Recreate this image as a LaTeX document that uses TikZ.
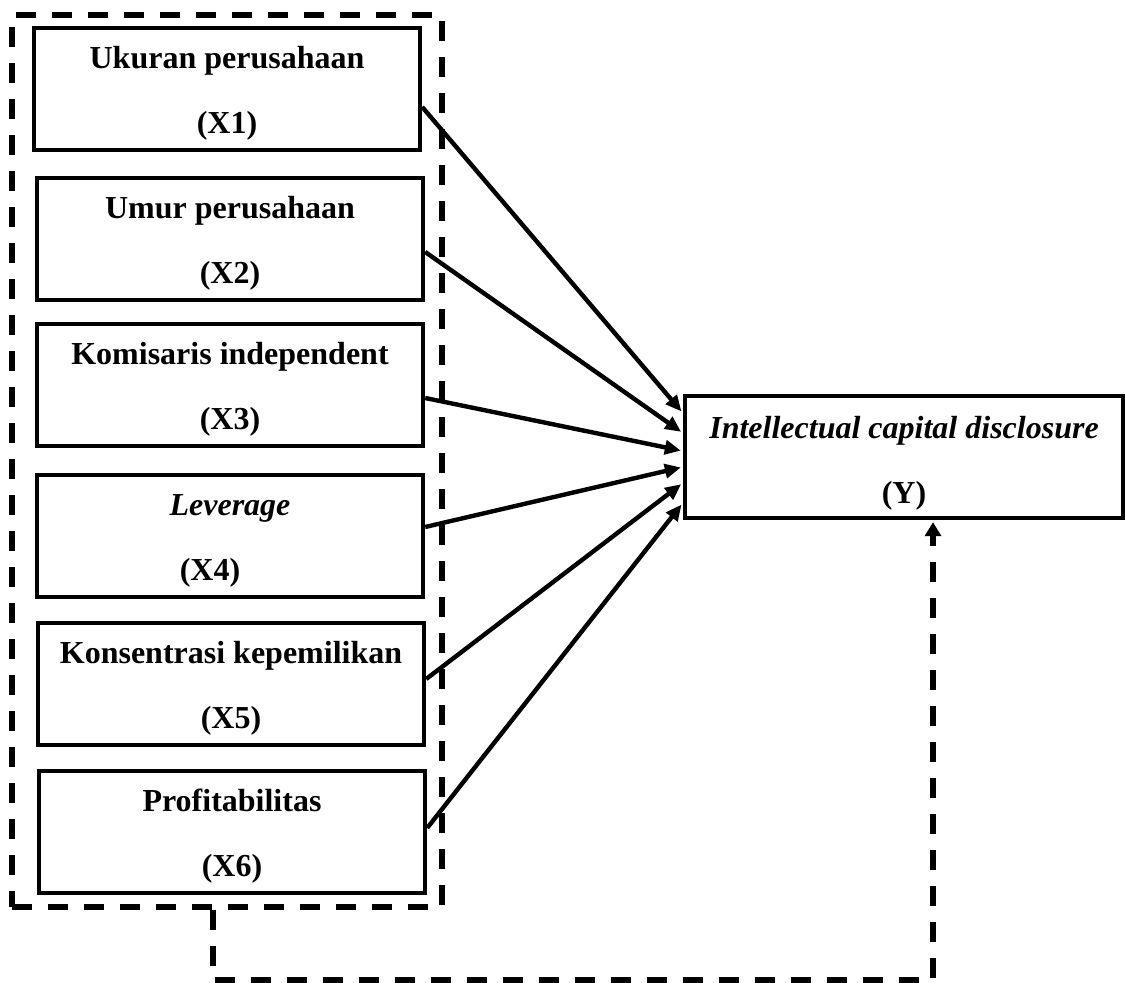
\documentclass[tikz,border=0pt]{standalone}
\usepackage{fontspec}
\setmainfont{Liberation Serif}
\usetikzlibrary{arrows.meta}

\begin{document}
\begin{tikzpicture}[x=0.5pt,y=-0.5pt,
  varbox/.style={draw,line width=2.2pt,minimum width=193pt,minimum height=61pt,
    align=center,text height=48pt,font=\fontsize{16}{32.5}\selectfont\bfseries},
  group/.style={draw,line width=3.2pt,dash pattern=on 10pt off 8pt,
    minimum width=215pt,minimum height=446pt},
  effect/.style={line width=2.2pt,-{Triangle[length=8pt,width=7pt]},shorten >=1pt},
  feedback/.style={line width=3.2pt,dash pattern=on 10pt off 8pt,
    -{Triangle[length=7pt,width=8pt]},shorten >=1pt}]
\useasboundingbox (0,0) rectangle (1125,983);
\node[group] (grp) at (227,461) {};
\node[varbox] (x1) at (227,89) {Ukuran perusahaan\\(X1)};
\node[varbox] (x2) at (230,239) {Umur perusahaan\\(X2)};
\node[varbox] (x3) at (230,385) {Komisaris independent\\(X3)};
\node[varbox] (x4) at (230,536) {\textit{Leverage}\\(X4)\hspace*{20pt}};
\node[varbox] (x5) at (231,684) {Konsentrasi kepemilikan\\(X5)};
\node[varbox] (x6) at (232,832) {Profitabilitas\\(X6)};
\node[varbox,minimum width=219pt,text height=50pt] (y) at (904,457) {\textit{Intellectual capital disclosure}\\(Y)};
% pengaruh X ke Y
\foreach \src/\from/\to in {x1/-9pt/22pt, x2/-6.5pt/12pt, x3/-6.5pt/3pt,
    x4/4.5pt/-5pt, x5/2.5pt/-13pt, x6/2pt/-23pt}
  \draw[effect] ([yshift=\from]\src.east) -- ([yshift=\to]y.west);
\coordinate (turn) at (213,980);
\draw[feedback] (grp.south -| turn) -- (turn) -| ([xshift=14.5pt]y.south);
\end{tikzpicture}
\end{document}
